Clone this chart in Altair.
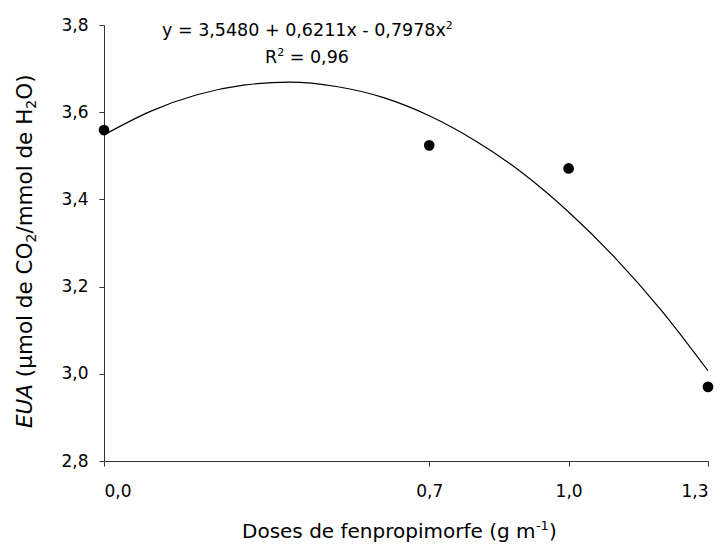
import altair as alt
import pandas as pd

# ---- data ----
dose = [0.0, 0.7, 1.0, 1.3]
eua = [3.559, 3.524, 3.471, 2.970]

curve_dose = [0.0, 0.1, 0.2, 0.3, 0.4, 0.5, 0.6, 0.7, 0.8, 0.9, 1.0, 1.1, 1.2, 1.3]
curve_eua = [3.548, 3.602, 3.640, 3.662, 3.669, 3.659, 3.634, 3.592, 3.534, 3.461,
             3.371, 3.266, 3.145, 3.007]

x_ticks = [0.0, 0.7, 1.0, 1.3]
y_ticks = [2.8, 3.0, 3.2, 3.4, 3.6, 3.8]

eq_main = "y = 3,5480 + 0,6211x - 0,7978x"
eq_sup = "2"
# (text, is_small, gap_before_in_spaces)
r2_parts = [("R", False, 0), ("2", True, 0), ("= 0,96", False, 1)]
x_title_parts = [("Doses de fenpropimorfe (g m", False, 0), ("-1", True, 0), (")", False, 0)]
y_title_parts = [("EUA", False, 0), ("(µmol de CO", False, 1), ("2", True, 0),
                 ("/mmol de H", False, 0), ("2", True, 0), ("O)", False, 0)]

FONT = "DejaVu Sans"
W = {' ': .318, ',': .318, '=': .838, '+': .838, '-': .361, '/': .337, '(': .390,
     ')': .390, 'x': .592, 'y': .592, 'D': .770, 'o': .612, 's': .521, 'e': .615, 'f': .352,
     'n': .634, 'p': .635, 'r': .411, 'i': .278, 'm': .974, 'g': .635, 'E': .632, 'U': .732,
     'A': .684, 'µ': .636, 'l': .278, 'd': .635, 'C': .698, 'O': .787, 'H': .752, 'R': .695}


def tw(s, size):
    return sum(W.get(c, .636) for c in s) * size


def txt(s, x, y, size, angle=0, style="normal"):
    return alt.Chart(alt.Data(values=[{"t": s}])).mark_text(
        font=FONT, fontSize=size, fontStyle=style, angle=angle,
        align="left", baseline="alphabetic", color="black"
    ).encode(text="t:N", x=alt.value(x), y=alt.value(y))


def run(parts, size, small, shift, x0, y0, rotated=False, first_italic=False):
    """Lay out a run of text pieces (with sub/superscripts) one after another."""
    out = []
    pos = 0.0
    for i, (s, is_small, gap) in enumerate(parts):
        pos += gap * W[' '] * size
        sz = small if is_small else size
        style = "italic" if (first_italic and i == 0) else "normal"
        if rotated:
            out.append(txt(s, x0 + (shift if is_small else 0), y0 - pos, sz, angle=270, style=style))
        else:
            out.append(txt(s, x0 + pos, y0 + (shift if is_small else 0), sz, style=style))
        pos += tw(s, sz)
    return out


label_expr = "replace(format(datum.value, '.1f'), '.', ',')"

pts = pd.DataFrame({"dose": dose, "eua": eua})
crv = pd.DataFrame({"dose": curve_dose, "eua": curve_eua})

xscale = alt.Scale(domain=[0, 1.3], nice=False, zero=False)
yscale = alt.Scale(domain=[2.8, 3.8], nice=False, zero=False)

xaxis = alt.Axis(values=x_ticks, labelExpr=label_expr, title=None, grid=False,
                 tickSize=5, labelPadding=17, labelFontSize=17)
yaxis = alt.Axis(values=y_ticks, labelExpr=label_expr, title=None, grid=False,
                 tickSize=5, labelPadding=11, labelFontSize=17)

line = alt.Chart(crv).mark_line(color="black", strokeWidth=1.2, interpolate="monotone").encode(
    x=alt.X("dose:Q", scale=xscale, axis=xaxis),
    y=alt.Y("eua:Q", scale=yscale, axis=yaxis),
)
points = alt.Chart(pts).mark_point(filled=True, color="black", size=115, opacity=1).encode(
    x=alt.X("dose:Q", scale=xscale),
    y=alt.Y("eua:Q", scale=yscale),
)

layers = [line, points]

# equation
layers += run([(eq_main, False, 0), (eq_sup, True, 0)], 17.5, 11, -7, 58, 11)
layers += run(r2_parts, 17.5, 11, -7, 161, 38)

# x title
layers += run(x_title_parts, 20, 13, -8, 138, 513)

# y title (rotated, reads bottom to top; subscripts shift right on screen)
layers += run(y_title_parts, 21.5, 14, 4, -72, 403, rotated=True, first_italic=True)

chart = alt.layer(*layers).properties(
    width=604, height=436,
    autosize=alt.AutoSizeParams(type="none"),
    padding={"left": 104, "top": 25, "right": 16, "bottom": 84},
).configure_view(stroke=None).configure_axis(
    labelFont=FONT, labelColor="black", domainColor="#333333", tickColor="#333333",
    domainWidth=1, tickWidth=1,
)

chart.save("out.html", embed_options={"renderer": "svg", "actions": False})
